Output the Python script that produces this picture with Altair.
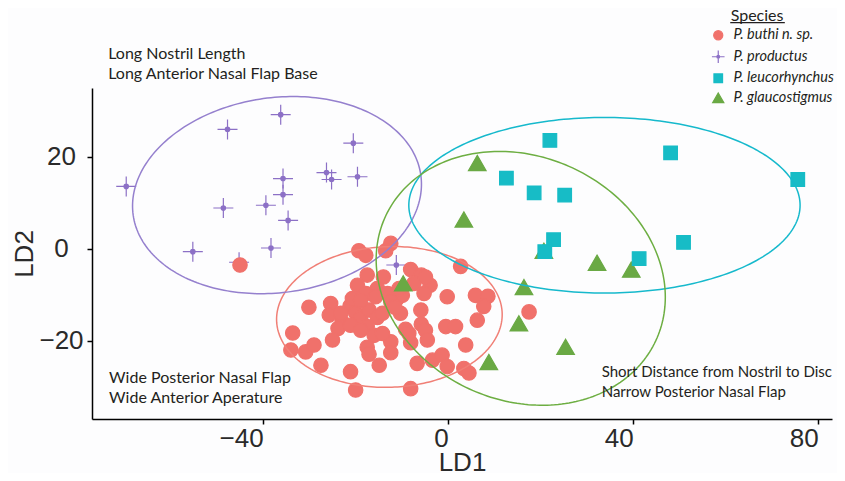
import numpy as np
import pandas as pd
import altair as alt

SPECIES = ["P. buthi n. sp.", "P. productus", "P. leucorhynchus", "P. glaucostigmus"]
POINT_COLORS = ["#F0716B", "#8C70C6", "#17BCC6", "#6AA944"]
ELLIPSE_COLORS = ["#F07F76", "#9580CE", "#16B9CC", "#6DAE42"]

# ---- point data (LD1, LD2) ----
productus_ld1 = [-69.6, -47.7, -36.2, -20.5, -26.3, -25.2, -19.6, -35.7, -35.7, -39.4,
                 -48.6, -34.6, -55.2, -38.3, -45.2, -11.2]
productus_ld2 = [13.6, 26.0, 29.2, 23.0, 16.6, 15.1, 15.7, 15.3, 11.8, 9.5,
                 8.9, 6.2, -0.6, 0.2, -2.9, -3.5]

buthi_ld1 = [-19.3, -17.8, -12.4, -13.5, -17.5, -14.0, -8.1, -5.8, -3.9, -5.2,
             -7.4, -19.6, -17.8, -15.3, -13.1, -11.0, -9.9, -10.3, -0.2, 5.9,
             8.6, 7.7, 6.3, -30.1, -25.4, -25.7, -21.2, -20.0, -22.9, -23.8,
             -18.9, -17.1, -15.3, -17.5, -14.2, -12.4, -11.5, -5.9, -5.8, -4.9,
             -4.5, -0.5, 1.6, -9.2, -8.1, -33.6, -34.0, -30.8, -29.0, -25.0,
             -21.1, -18.9, -16.0, -12.4, -12.4, -17.5, -17.1, 3.8, -6.7, -3.4,
             -1.3, -0.2, 3.4, -27.5, -21.1, -14.9, -20.0, -8.1, -10.6, -20.7,
             -8.5, 17.5, 2.7, 4.5, -4.9, -45.0, -23.2, -18.9, -15.7, -14.2]
buthi_ld2 = [-0.4, -1.4, 1.2, -0.4, -5.7, -6.1, -4.5, -5.7, -7.9, -9.7,
             -7.5, -7.9, -9.7, -8.6, -9.7, -10.8, -10.1, -14.0, -10.4, -10.1,
             -10.3, -12.5, -15.5, -12.7, -11.9, -14.4, -12.4, -13.9, -15.9, -17.3,
             -15.1, -13.3, -14.9, -16.9, -14.0, -11.5, -12.7, -13.3, -16.4, -17.7,
             -19.8, -16.9, -16.9, -17.5, -20.4, -18.3, -22.0, -22.4, -20.9, -19.8,
             -16.6, -17.7, -18.8, -20.2, -22.6, -21.4, -22.9, -20.9, -24.9, -24.2,
             -23.1, -25.6, -26.0, -25.3, -26.7, -25.3, -30.7, -30.4, -8.6, -10.8,
             -18.4, -13.7, -3.8, -27.0, -6.1, -3.5, -14.0, -11.2, -10.4, -18.4]

glauco_ld1 = [6.3, 3.4, 20.7, 32.2, 39.6, -9.7, 16.4, 15.3, 25.4, 8.8]
glauco_ld2 = [18.7, 6.4, -0.4, -3.0, -4.5, -7.5, -8.3, -16.2, -21.3, -24.6]

leuco_ld1 = [22.0, 48.1, 75.6, 12.6, 18.6, 25.2, 22.8, 20.9, 50.9, 41.3]
leuco_ld2 = [23.6, 20.9, 15.1, 15.4, 12.2, 11.7, 2.0, -0.6, 1.4, -2.1]

# ---- ellipse parameters (center, semi-axes, rotation in degrees) ----
ell_cx = [-12.7, -37.0, 33.8, 15.7]
ell_cy = [-14.8, 11.7, 9.5, -6.4]
ell_a = [24.4, 31.4, 42.3, 32.2]
ell_b = [15.3, 21.2, 19.1, 26.5]
ell_angle = [2, 8, 0, -25]

# ---- text annotations ----
left_text = ["Long Nostril Length", "Long Anterior Nasal Flap Base",
             "Wide Posterior Nasal Flap", "Wide Anterior Aperature"]
left_ld1 = [-73.5, -73.5, -73.3, -73.3]
left_ld2 = [42.4, 38.1, -28.1, -32.5]
right_text = ["Short Distance from Nostril to Disc", "Narrow Posterior Nasal Flap"]
right_ld1 = [33.2, 33.2]
right_ld2 = [-26.7, -31.1]

# ---- build tables ----
rows = []
for sp, xs, ys in [(SPECIES[1], productus_ld1, productus_ld2),
                   (SPECIES[0], buthi_ld1, buthi_ld2),
                   (SPECIES[3], glauco_ld1, glauco_ld2),
                   (SPECIES[2], leuco_ld1, leuco_ld2)]:
    for x, y in zip(xs, ys):
        rows.append({"species": sp, "LD1": x, "LD2": y})
pts = pd.DataFrame(rows)

erows = []
t = np.linspace(0, 2 * np.pi, 241)
for sp, cx, cy, a, b, ang in zip(SPECIES, ell_cx, ell_cy, ell_a, ell_b, ell_angle):
    th = np.deg2rad(ang)
    ex = cx + a * np.cos(t) * np.cos(th) - b * np.sin(t) * np.sin(th)
    ey = cy + a * np.cos(t) * np.sin(th) + b * np.sin(t) * np.cos(th)
    for i, (xx, yy) in enumerate(zip(ex, ey)):
        erows.append({"species": sp, "i": i, "LD1": xx, "LD2": yy})
ell = pd.DataFrame(erows)

notes_left = pd.DataFrame({"text": left_text, "LD1": left_ld1, "LD2": left_ld2})
notes_right = pd.DataFrame({"text": right_text, "LD1": right_ld1, "LD2": right_ld2})
legend_title = pd.DataFrame({"text": ["Species"], "LD1": [66.8], "LD2": [50.6]})
underline = pd.DataFrame({"LD1": [61.0], "LD1b": [72.8], "LD2": [49.2]})

SHAPES = [
    "M0.72,0A0.72,0.72,0,1,1,-0.72,0A0.72,0.72,0,1,1,0.72,0Z",
    "M-1,0H1M0,-1V1M0.22,0A0.22,0.22,0,1,1,-0.22,0A0.22,0.22,0,1,1,0.22,0Z",
    "M-0.68,-0.68H0.68V0.68H-0.68Z",
    "M0,-0.76L0.88,0.76H-0.88Z",
]

xscale = alt.Scale(domain=[-77, 83], nice=False, zero=False)
yscale = alt.Scale(domain=[-37, 35], nice=False, zero=False)
xaxis = alt.Axis(values=[-40, 0, 40, 80], title="LD1", labelAlign="right",
                 labelPadding=1, titleBaseline="alphabetic", titleY=51)
yaxis = alt.Axis(values=[-20, 0, 20], title="LD2", labelAlign="center",
                 labelPadding=26, titleX=-60, titleBaseline="alphabetic")

color_scale = alt.Scale(domain=SPECIES, range=POINT_COLORS)
shape_scale = alt.Scale(domain=SPECIES, range=SHAPES)

points = alt.Chart(pts).mark_point(filled=True, opacity=1, size=400, strokeWidth=1.2).encode(
    x=alt.X("LD1:Q", scale=xscale, axis=xaxis),
    y=alt.Y("LD2:Q", scale=yscale, axis=yaxis),
    fill=alt.Fill("species:N", scale=color_scale, legend=alt.Legend(title=None)),
    stroke=alt.Stroke("species:N", scale=color_scale, legend=alt.Legend(title=None)),
    shape=alt.Shape("species:N", scale=shape_scale, legend=alt.Legend(title=None)),
)

ellipses = alt.Chart(ell).mark_line(strokeWidth=1.5).encode(
    x="LD1:Q",
    y="LD2:Q",
    color=alt.Color("species:N", scale=alt.Scale(domain=SPECIES, range=ELLIPSE_COLORS), legend=None),
    order=alt.Order("i:Q"),
)

left_layer = alt.Chart(notes_left).mark_text(align="left", baseline="middle", font="Lato",
                                              fontSize=16, color="#231F20").encode(
    x="LD1:Q", y="LD2:Q", text="text:N")

right_layer = alt.Chart(notes_right).mark_text(align="left", baseline="middle", font="Lato",
                                                fontSize=15, color="#231F20").encode(
    x="LD1:Q", y="LD2:Q", text="text:N")

title_layer = alt.Chart(legend_title).mark_text(align="center", baseline="middle", font="Lato",
                                                fontSize=16, color="#231F20").encode(
    x="LD1:Q", y="LD2:Q", text="text:N")

underline_layer = alt.Chart(underline).mark_rule(color="#231F20", strokeWidth=1.2).encode(
    x="LD1:Q", x2="LD1b:Q", y="LD2:Q")

chart = alt.layer(points, ellipses, left_layer, right_layer, title_layer, underline_layer).properties(
    width=740, height=331,
    autosize=alt.AutoSizeParams(type="none"),
    padding={"left": 84, "top": 80, "right": 5, "bottom": 54},
    background="#FDFDFE",
).configure_view(stroke=None).configure_axis(
    grid=False, domainColor="black", domainWidth=1.5, tickColor="black", tickWidth=1.5,
    tickSize=5, labelFont="Liberation Sans", labelFontSize=26, labelColor="#2a2a2a",
    titleFont="Liberation Sans", titleFontSize=26, titleFontWeight="normal", titleColor="#2a2a2a",
).configure_legend(
    orient="none", legendX=619, legendY=-60, padding=0, labelFont="Lato",
    labelFontStyle="italic", labelFontSize=14.5, labelColor="#231F20", symbolSize=160,
    symbolStrokeWidth=1.2, rowPadding=4.5, labelOffset=8,
)

chart.save("out.html", embed_options={"renderer": "svg", "actions": False})
